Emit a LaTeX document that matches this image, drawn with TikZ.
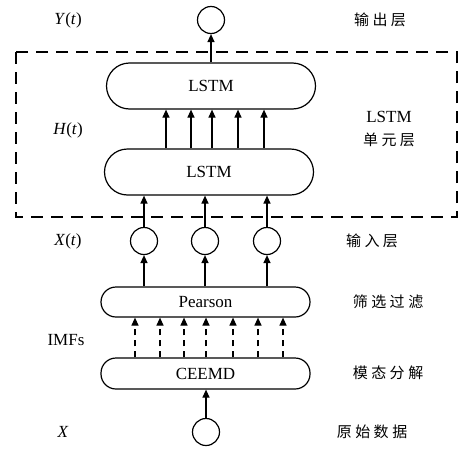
\documentclass[tikz,border=0pt]{standalone}
\usepackage{fontspec}
\setmainfont{Liberation Serif}
\newfontfamily\cjk{Noto Sans CJK SC}
\usetikzlibrary{arrows.meta}
\newcommand\cgap{\hspace{3.5pt}}
\begin{document}
\begin{tikzpicture}[x=1pt,y=-1pt,
  every node/.style={font=\fontsize{17}{20}\selectfont},
  pill/.style={draw,line width=1.2pt,rounded corners=#1,inner sep=0pt},
  circ/.style={draw,circle,line width=1.2pt,minimum size=27pt,inner sep=0pt},
  arr/.style={line width=1.2pt,-{Triangle[length=8pt,width=7pt]}},
  darr/.style={arr,dash pattern=on 6pt off 5pt},
  lab/.style={font=\fontsize{15}{18}\selectfont\cjk},
]
\useasboundingbox (0,0) rectangle (468,450);
% dashed LSTM region
\draw[line width=1.2pt,dash pattern=on 12pt off 8pt] (16,52) rectangle (457,217);
% nodes
\node[circ] (yout) at (211,20) {};
\node[pill=23pt,minimum width=209pt,minimum height=46pt] (lstm2) at (211,86) {LSTM};
\node[pill=23pt,minimum width=209pt,minimum height=46pt] (lstm1) at (209,172) {LSTM};
\node[circ] (xin1) at (144,241) {};
\node[circ] (xin2) at (205,241) {};
\node[circ] (xin3) at (267,241) {};
\node[pill=15pt,minimum width=209pt,minimum height=30pt] (pear) at (205.5,302) {Pearson};
\node[pill=15pt,minimum width=209pt,minimum height=31pt] (ceemd) at (205.5,373.5) {CEEMD};
\node[circ] (xraw) at (206,432) {};
% left labels
\node (ly) at (68,20) {\textit{Y}(\textit{t})};
\node (lh) at (68,130) {\textit{H}(\textit{t})};
\node (lx) at (68,241) {\textit{X}(\textit{t})};
\node (limf) at (66,340) {IMFs};
\node (lraw) at (63,432) {\textit{X}};
% right labels
\node[lab] (r1) at (380,20) {输\cgap 出\cgap 层};
\node (r2a) at (389,117) {LSTM};
\node[lab] (r2b) at (389,140) {单\cgap 元\cgap 层};
\node[lab] (r3) at (372,241) {输\cgap 入\cgap 层};
\node[lab] (r4) at (388,302) {筛\cgap 选\cgap 过\cgap 滤};
\node[lab] (r5) at (388,373) {模\cgap 态\cgap 分\cgap 解};
\node[lab] (r6) at (372,432) {原\cgap 始\cgap 数\cgap 据};
% connectors
\draw[arr] (lstm2.north -| yout) -- (yout.south);
\foreach \x in {166,191,212,238,264}
  \draw[arr] (\x,0 |- lstm1.north) -- (\x,0 |- lstm2.south);
\foreach \n in {xin1,xin2,xin3}{
  \draw[arr] (\n.north) -- (lstm1.south -| \n);
  \draw[arr] (pear.north -| \n) -- (\n.south);
}
\foreach \x in {135,160,184,206,233,258,283}
  \draw[darr] (\x,0 |- ceemd.north) -- (\x,0 |- pear.south);
\draw[arr] (xraw.north) -- (ceemd.south -| xraw);
\end{tikzpicture}
\end{document}
